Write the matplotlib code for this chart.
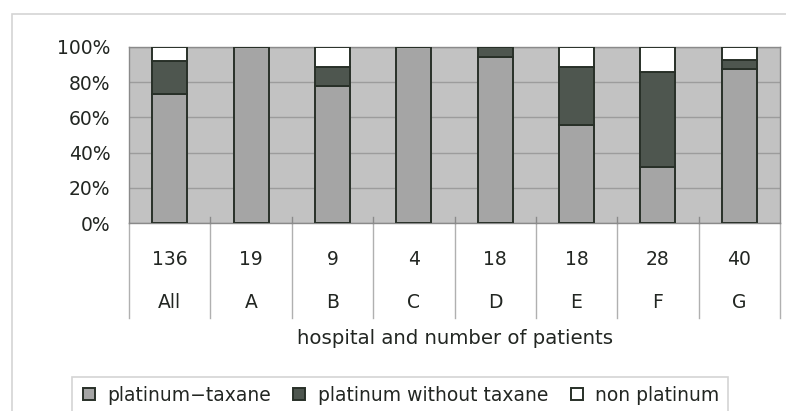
import matplotlib
matplotlib.use("Agg")
import matplotlib.pyplot as plt
from matplotlib.patches import Rectangle
from matplotlib.lines import Line2D
import numpy as np

hospitals = ["All", "A", "B", "C", "D", "E", "F", "G"]
patients = ["136", "19", "9", "4", "18", "18", "28", "40"]
platinum_taxane = [73.5, 100, 77.8, 100, 94.4, 55.6, 32.1, 87.5]
platinum_without_taxane = [18.4, 0, 11.1, 0, 5.6, 33.3, 53.6, 5.0]
non_platinum = [8.1, 0, 11.1, 0, 0, 11.1, 14.3, 7.5]
series_names = ["platinum\u2212taxane", "platinum without taxane", "non platinum"]
yticks = [0, 20, 40, 60, 80, 100]
ytick_labels = ["0%", "20%", "40%", "60%", "80%", "100%"]

plt.rcParams['font.family'] = ['DejaVu Sans']
FS = 13.5
TXT = "#222622"
fig = plt.figure(figsize=(7.86, 4.11), dpi=100)
W, H = 786, 411

# outer chart border
fig.add_artist(Rectangle((12 / W, -0.01), 0.99, 1 - 14 / H + 0.01, transform=fig.transFigure,
                         fill=False, edgecolor="#d4d4d4", lw=1.2))

ax = fig.add_axes([129 / W, (H - 223) / H, (780 - 129) / W, (223 - 47) / H])
ax.set_facecolor("#c2c2c2")
x = np.arange(len(hospitals))
colors = ["#a5a5a5", "#4e564f", "#ffffff"]
edge = "#283028"
bottom = np.zeros(len(hospitals))
for vals, c, name in zip([platinum_taxane, platinum_without_taxane, non_platinum], colors, series_names):
    ax.bar(x, vals, width=0.43, bottom=bottom, color=c, edgecolor=edge, linewidth=1.4, label=name, zorder=3)
    bottom += np.array(vals)

ax.set_xlim(-0.5, len(hospitals) - 0.5)
ax.set_ylim(0, 100)
ax.set_yticks(yticks)
ax.set_yticklabels(ytick_labels, fontsize=FS, color=TXT)
ax.tick_params(axis="y", length=0, pad=13.5)
ax.set_xticks([])
ax.yaxis.grid(True, color="#9c9c9c", lw=1.0, zorder=0)
ax.set_axisbelow(True)
for s in ax.spines.values():
    s.set_color("#8a8a8a")
    s.set_linewidth(1.0)

trans = ax.get_xaxis_transform()
# category separators and inward ticks
for k in range(len(hospitals) + 1):
    xb = k - 0.5
    ax.add_line(Line2D([xb, xb], [0.0, -0.54], transform=trans, color="#b0b0b0", lw=1.0, clip_on=False))
    if 0 < k < len(hospitals):
        ax.add_line(Line2D([xb, xb], [0.0, 0.035], transform=trans, color="#8a8a8a", lw=1.0, clip_on=False, zorder=2))

for xi, n, h in zip(x, patients, hospitals):
    ax.text(xi, -0.21, n, transform=trans, ha="center", va="center", fontsize=FS, color=TXT)
    ax.text(xi, -0.45, h, transform=trans, ha="center", va="center", fontsize=FS, color=TXT)

fig.text((292 + 618) / 2 / W, 1 - 338 / H, "hospital and number of patients", ha="center", va="center",
         fontsize=14.2, color=TXT)

# legend box
fig.add_artist(Rectangle((72 / W, -0.01), (728 - 72) / W, 1 - 377 / H + 0.01, transform=fig.transFigure,
                         fill=False, edgecolor="#d4d4d4", lw=1.2))
leg = fig.legend(loc="center left", bbox_to_anchor=(83 / W, 1 - 395 / H), ncol=3, frameon=False,
                 fontsize=FS, handlelength=0.64, handleheight=0.64, handletextpad=0.65,
                 columnspacing=1.2, borderpad=0, borderaxespad=0)
for t in leg.get_texts():
    t.set_color(TXT)

fig.savefig("out.png", dpi=100)
